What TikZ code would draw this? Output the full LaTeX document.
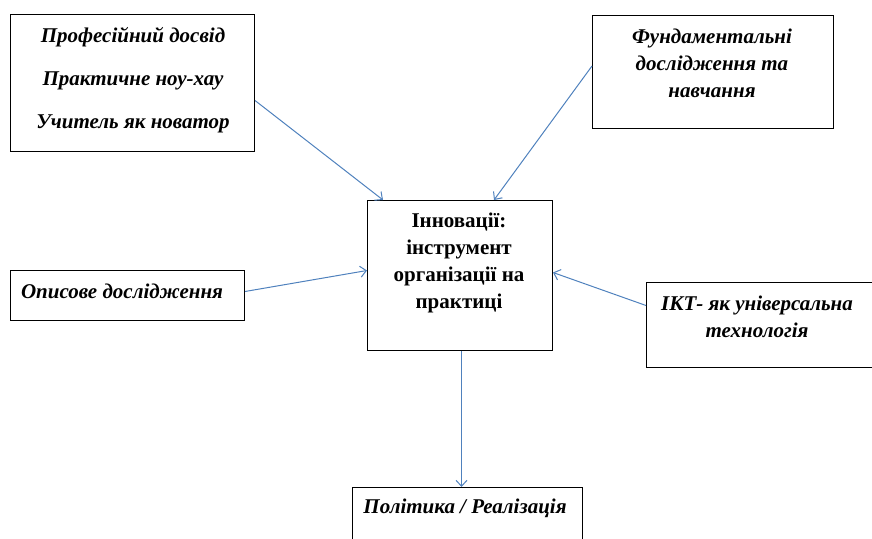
\documentclass[tikz,border=0pt]{standalone}
\usepackage{fontspec}
\setmainfont{Liberation Serif}
\usetikzlibrary{positioning,arrows.meta}
\definecolor{linkblue}{RGB}{79,129,189}
\tikzset{
  box/.style={draw, line width=1pt, anchor=north west, inner sep=0pt},
  txt/.style={font=\bfseries\itshape\fontsize{21}{27}\selectfont, align=center, anchor=base, inner sep=0pt},
  link/.style={-{Straight Barb[length=6pt,width=11pt]}, draw=linkblue, line width=1pt}
}

\begin{document}
\begin{tikzpicture}[x=1pt, y=-1pt]
\useasboundingbox (0,0) rectangle (872,538);
% boxes
\node[box, minimum width=244pt, minimum height=137pt] (prof) at (10,14) {};
\node[box, minimum width=241pt, minimum height=113pt] (fund) at (592,15) {};
\node[box, minimum width=185pt, minimum height=150pt] (inno) at (367,200) {};
\node[box, minimum width=234pt, minimum height=50pt] (opys) at (10,270) {};
\node[box, minimum width=230pt, minimum height=85pt] (ikt) at (646,282) {};
\node[box, minimum width=230pt, minimum height=80pt] (pol) at (352,487) {};
% texts (placed by the baseline of the last line)
\node[txt] (profT) at (133,128) {Професійний досвід\\[16pt]Практичне ноу-хау\\[16pt]Учитель як новатор};
\node[txt] (fundT) at (712,97) {Фундаментальні\\дослідження та\\навчання};
\node[txt, font=\bfseries\fontsize{21}{27}\selectfont] (innoT) at (459,308) {Інновації:\\інструмент\\організації на\\практиці};
\node[txt] (opysT) at (122,298) {Описове дослідження};
\node[txt] (iktT) at (757,337) {ІКТ- як універсальна\\технологія};
\node[txt] (polT) at (465,513) {Політика / Реалізація};
% arrows
\draw[link] ([yshift=-17.5pt]prof.east) -- ([xshift=-77pt]inno.north);
\draw[link] ([yshift=6pt]fund.west) -- ([xshift=34pt]inno.north);
\draw[link] ([yshift=4pt]opys.east) -- ([yshift=5pt]inno.west);
\draw[link] ([yshift=19.5pt]ikt.west) -- ([yshift=3pt]inno.east);
\draw[link] ([xshift=1.5pt]inno.south) -- ([xshift=1.5pt]inno.south |- pol.north);
\end{tikzpicture}
\end{document}
